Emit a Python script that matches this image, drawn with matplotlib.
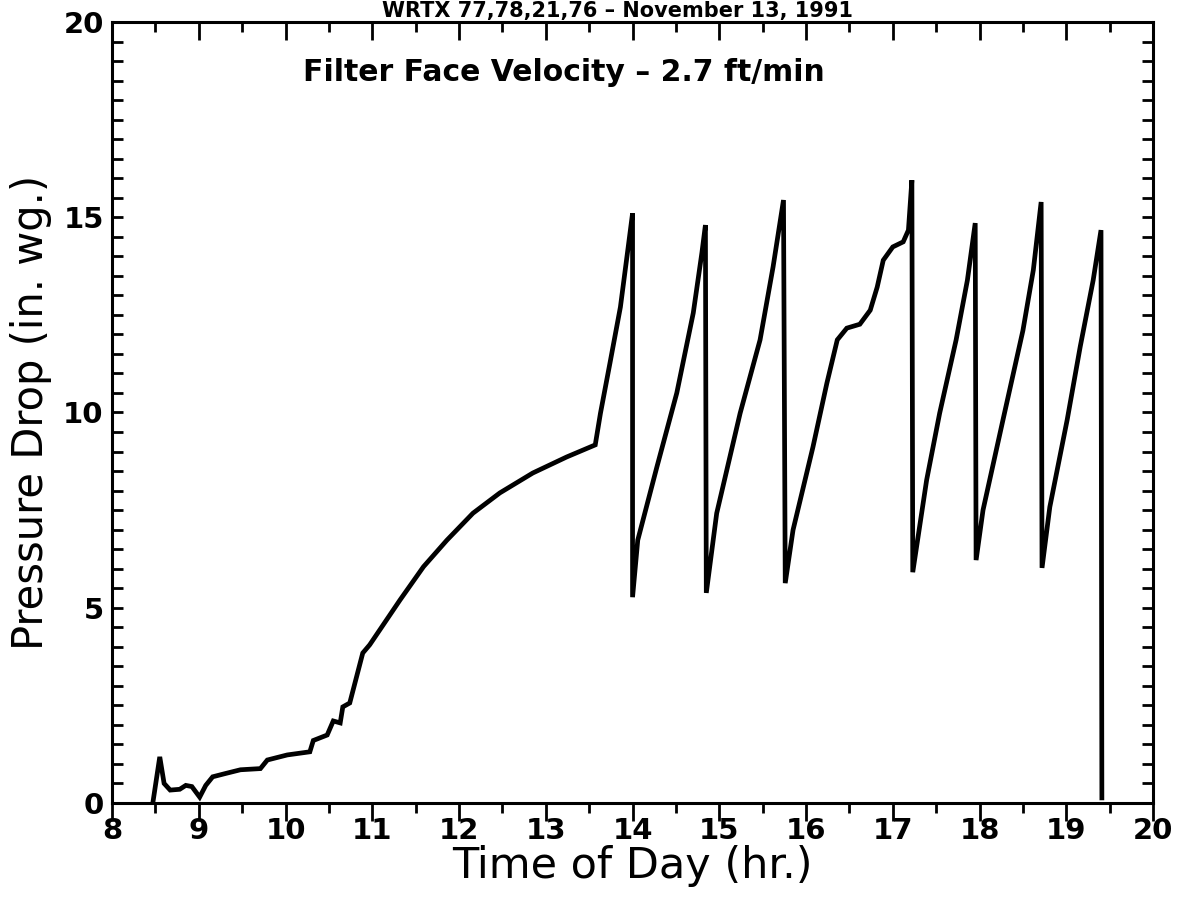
import matplotlib
matplotlib.use("Agg")
import matplotlib.pyplot as plt
from matplotlib.ticker import MultipleLocator

# Time of day (hr.) and pressure drop (in. wg.)
time_hr = [8.47, 8.55, 8.60, 8.67, 8.78, 8.85, 8.92, 9.01, 9.08, 9.16, 9.30,
           9.48, 9.71, 9.79, 10.02, 10.28, 10.32, 10.48, 10.55, 10.63, 10.66,
           10.74, 10.89, 10.97, 11.32, 11.59, 11.86, 12.16, 12.47, 12.85, 13.24,
           13.57, 13.63, 13.74, 13.86, 13.95, 14.00, 14.00, 14.06, 14.28, 14.51,
           14.70, 14.80, 14.84, 14.85, 14.97, 15.24, 15.47, 15.62, 15.74, 15.76,
           15.85, 16.08, 16.24, 16.36, 16.47, 16.62, 16.74, 16.82, 16.89, 17.00,
           17.12, 17.18, 17.22, 17.23, 17.39, 17.54, 17.73, 17.86, 17.95, 17.96,
           18.04, 18.27, 18.50, 18.62, 18.71, 18.72, 18.81, 19.01, 19.16, 19.31,
           19.40, 19.41]
pressure = [0.0, 1.18, 0.50, 0.33, 0.35, 0.45, 0.42, 0.15, 0.45, 0.67, 0.75,
            0.85, 0.88, 1.10, 1.23, 1.31, 1.60, 1.74, 2.10, 2.05, 2.46,
            2.56, 3.84, 4.05, 5.20, 6.05, 6.73, 7.42, 7.94, 8.45, 8.86,
            9.17, 9.98, 11.27, 12.70, 14.24, 15.10, 5.27, 6.73, 8.60, 10.50,
            12.55, 14.10, 14.80, 5.38, 7.42, 9.98, 11.86, 13.73, 15.44, 5.63,
            6.99, 9.12, 10.75, 11.86, 12.16, 12.26, 12.62, 13.21, 13.90, 14.24,
            14.37, 14.67, 15.95, 5.91, 8.27, 9.98, 11.86, 13.39, 14.85, 6.22,
            7.50, 9.81, 12.10, 13.65, 15.39, 6.02, 7.58, 9.81, 11.68, 13.39,
            14.67, 0.13]

x_ticks = list(range(8, 21))
y_ticks = [0, 5, 10, 15, 20]

title_text = "WRTX 77,78,21,76 \u2013 November 13, 1991"
note_text = "Filter Face Velocity \u2013 2.7 ft/min"

fig = plt.figure(figsize=(11.87, 9.02), dpi=100)
ax = fig.add_axes([0.0944, 0.1098, 0.877, 0.8658])

ax.plot(time_hr, pressure, color="black", lw=3.4, solid_joinstyle="miter")

ax.set_xlim(8, 20)
ax.set_ylim(0, 20)
ax.set_xticks(x_ticks)
ax.set_yticks(y_ticks)
ax.xaxis.set_minor_locator(MultipleLocator(0.5))
ax.yaxis.set_minor_locator(MultipleLocator(0.5))

for s in ax.spines.values():
    s.set_linewidth(2.2)

ax.tick_params(axis="both", which="both", width=2, top=True, right=True,
               direction="in")
ax.tick_params(axis="x", which="major", length=13, pad=10)
ax.tick_params(axis="x", which="minor", length=7)
ax.tick_params(axis="y", which="major", length=8, pad=6)
ax.tick_params(axis="y", which="minor", length=8)
for t in ax.xaxis.get_major_ticks() + ax.xaxis.get_minor_ticks():
    t.tick1line.set_marker(3)  # bottom ticks point down, as in the original
for lab in ax.get_xticklabels() + ax.get_yticklabels():
    lab.set_fontsize(21)
    lab.set_fontweight("bold")

ax.set_xlabel("Time of Day (hr.)", fontsize=31, labelpad=0)
ax.set_ylabel("Pressure Drop (in. wg.)", fontsize=30, labelpad=8)

ax.text(10.2, 18.7, note_text, fontsize=21.5, fontweight="bold",
        va="center", ha="left")
fig.text(0.52, 0.999, title_text, fontsize=15, fontweight="bold",
         ha="center", va="top")

fig.savefig("out.png", dpi=100, facecolor="white")
